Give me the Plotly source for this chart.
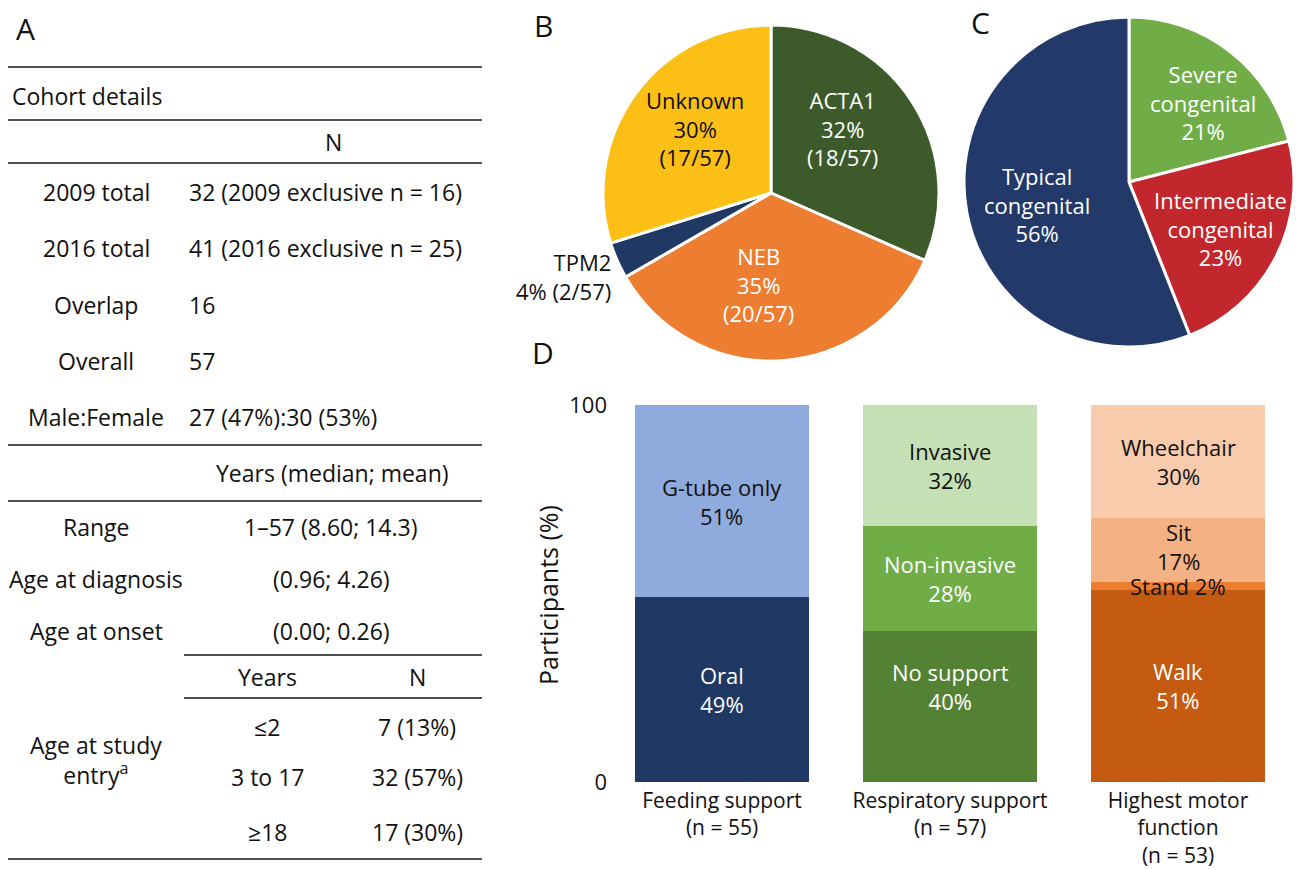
import plotly.graph_objects as go

# ---------------- DATA ----------------
cohort_labels = ["2009 total", "2016 total", "Overlap", "Overall", "Male:Female"]
cohort_values = ["32 (2009 exclusive n = 16)", "41 (2016 exclusive n = 25)", "16", "57",
                 "27 (47%):30 (53%)"]
age_labels = ["Range", "Age at diagnosis", "Age at onset"]
age_values = ["1–57 (8.60; 14.3)", "(0.96; 4.26)", "(0.00; 0.26)"]
entry_years = ["≤2", "3 to 17", "≥18"]
entry_n = ["7 (13%)", "32 (57%)", "17 (30%)"]

genes = ["ACTA1", "NEB", "TPM2", "Unknown"]
gene_counts = [18, 20, 2, 17]

subtypes = ["Severe<br>congenital", "Intermediate<br>congenital", "Typical<br>congenital"]
subtype_pct = [21, 23, 56]

bar_categories = ["Feeding support<br>(n = 55)", "Respiratory support<br>(n = 57)",
                  "Highest motor<br>function<br>(n = 53)"]
feeding_labels = ["Oral", "G-tube only"]
feeding_values = [49, 51]
resp_labels = ["No support", "Non-invasive", "Invasive"]
resp_values = [40, 28, 32]
motor_labels = ["Walk", "Stand", "Sit", "Wheelchair"]
motor_values = [51, 2, 17, 30]

# ---------------- STYLE ----------------
W, H = 1297, 870
FONT = "Open Sans"
LINE = "#505050"


def px(x):
    return x / W


def py(y):
    return 1 - y / H


gene_colors = ["#3D5A2B", "#ED7D31", "#203864", "#FBBF16"]
subtype_colors = ["#70AD47", "#C1272D", "#22396A"]
feeding_colors = ["#203864", "#8FAADC"]
resp_colors = ["#548235", "#70AD47", "#C5E0B4"]
motor_colors = ["#C55A11", "#ED7D31", "#F4B183", "#F8CBAD"]
feeding_txt = ["white", "#111111"]
resp_txt = ["white", "white", "#111111"]
motor_txt = ["white", "#111111", "#111111", "#111111"]

fig = go.Figure()
annotations = []
shapes = []


def ann(x, y, text, size=23, xanchor="center", color="#111111", align="center", **kw):
    annotations.append(dict(x=px(x), y=py(y), xref="paper", yref="paper", text=text,
                            showarrow=False, xanchor=xanchor, yanchor="middle", align=align,
                            font=dict(family=FONT, size=size, color=color), **kw))


def hline(y, x0=8, x1=482):
    shapes.append(dict(type="line", xref="paper", yref="paper", x0=px(x0), x1=px(x1),
                       y0=py(y), y1=py(y), line=dict(color=LINE, width=2)))


# ---------------- PANEL A (table) ----------------
ann(25, 28, "A", size=30)
for y in [67, 120, 163, 445, 501, 859]:
    hline(y)
hline(655, 184, 482)
hline(698, 184, 482)

ann(10, 96, "Cohort details", xanchor="left")
ann(333, 142, "N")
cohort_y = [192, 248, 305, 361, 417]
for lab, val, y in zip(cohort_labels, cohort_values, cohort_y):
    ann(96, y, lab)
    ann(187, y, val, xanchor="left")

ann(332, 473, "Years (median; mean)")
age_y = [527, 579, 631]
for lab, val, y in zip(age_labels, age_values, age_y):
    ann(96, y, lab)
    ann(331, y, val)

ann(267, 677, "Years")
ann(417, 677, "N")
entry_y = [727, 777, 832]
for yr, n, y in zip(entry_years, entry_n, entry_y):
    ann(267, y, yr)
    ann(417, y, n)
ann(96, 760, "Age at study<br>entry<sup>a</sup>")

# ---------------- PANEL B (gene pie) ----------------
ann(543, 25, "B", size=30)
fig.add_trace(go.Pie(labels=genes, values=gene_counts, sort=False, direction="clockwise",
                     rotation=0, textinfo="none", hoverinfo="skip", showlegend=False,
                     marker=dict(colors=gene_colors, line=dict(color="white", width=3)),
                     domain=dict(x=[px(603), px(939)], y=[py(361), py(25)])))
total = sum(gene_counts)
gene_pct = [round(c / total * 100 + 1e-9) for c in gene_counts]
gene_pos = {"ACTA1": (842, 129, "white"), "NEB": (758, 284, "white"),
            "Unknown": (695, 129, "#111111")}
for g, c, p in zip(genes, gene_counts, gene_pct):
    if g in gene_pos:
        x, y, col = gene_pos[g]
        ann(x, y, f"{g}<br>{p}%<br>({c}/{total})", size=22, color=col)
    else:
        ann(613, 276, f"{g}<br>{p}% ({c}/{total})", size=22, xanchor="right", align="right")

# ---------------- PANEL C (subtype pie) ----------------
ann(980, 23, "C", size=30)
fig.add_trace(go.Pie(labels=subtypes, values=subtype_pct, sort=False, direction="clockwise",
                     rotation=0, textinfo="none", hoverinfo="skip", showlegend=False,
                     marker=dict(colors=subtype_colors, line=dict(color="white", width=3)),
                     domain=dict(x=[px(964), px(1294)], y=[py(347), py(17)])))
sub_pos = [(1203, 103), (1220, 228), (1037, 204)]
for s, p, (x, y) in zip(subtypes, subtype_pct, sub_pos):
    ann(x, y, f"{s}<br>{p}%", size=22, color="white")

# ---------------- PANEL D (stacked bars) ----------------
ann(543, 352, "D", size=30)
groups = [
    (bar_categories[0], feeding_labels, feeding_values, feeding_colors, feeding_txt),
    (bar_categories[1], resp_labels, resp_values, resp_colors, resp_txt),
    (bar_categories[2], motor_labels, motor_values, motor_colors, motor_txt),
]
label_shift = {"No support": 20, "Sit": 4}
for cat, labs, vals, cols, tcols in groups:
    base = 0
    for lab, v, c, tc in zip(labs, vals, cols, tcols):
        fig.add_trace(go.Bar(x=[cat], y=[v], marker=dict(color=c, line=dict(width=0)),
                             hoverinfo="skip", showlegend=False))
        text = f"{lab} {v}%" if v < 5 else f"{lab}<br>{v}%"
        annotations.append(dict(x=cat, y=base + v / 2, xref="x", yref="y", text=text,
                                showarrow=False, yshift=label_shift.get(lab, 0),
                                font=dict(family=FONT, size=22, color=tc)))
        base += v

ann(548, 595, "Participants (%)", size=25, textangle=-90)

fig.update_layout(
    width=W, height=H, margin=dict(l=0, r=0, t=0, b=0),
    paper_bgcolor="white", plot_bgcolor="white",
    barmode="stack", bargap=0.24,
    font=dict(family=FONT, size=22, color="#111111"),
    annotations=annotations, shapes=shapes,
    xaxis=dict(domain=[px(608), px(1292)], showgrid=False, zeroline=False, showline=False,
               ticks="", tickfont=dict(family=FONT, size=21, color="#111111"),
               ticklabelstandoff=4, automargin=False, fixedrange=True),
    yaxis=dict(domain=[py(782), py(405)], range=[0, 100], tickvals=[0, 100],
               showgrid=True, gridcolor="#D9D9D9", gridwidth=2, zeroline=False,
               showline=False, ticks="", tickfont=dict(family=FONT, size=22, color="#111111"),
               automargin=False, fixedrange=True),
)

fig.write_html("out.html", config={"displayModeBar": False},
               post_script="document.body.style.margin='0px';document.body.style.overflow='hidden';")
